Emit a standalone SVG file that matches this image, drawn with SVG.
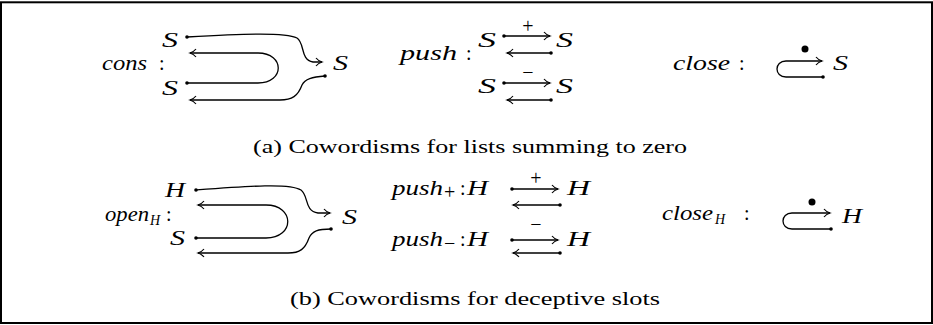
<svg xmlns="http://www.w3.org/2000/svg" width="933" height="325" viewBox="0 0 933 325" font-family="'Liberation Serif', 'Times New Roman', Times, serif">
<style>
text{font-family:'Liberation Serif','Times New Roman',Times,serif;fill:#000}
.m{font-style:italic;font-size:20px}
.s{font-style:italic;font-size:14px}
.r{font-size:20px}
.c{font-size:19px}
.w{fill:none;stroke:#000;stroke-width:1.3}
.a{marker-end:url(#ah)}
</style>
<defs>
<marker id="ah" markerUnits="userSpaceOnUse" markerWidth="12" markerHeight="12" viewBox="-8 -6 10 12" refX="0" refY="0" orient="auto" overflow="visible">
<path d="M-6,-4 C-4,-1.5 -1.5,-0.5 0,0 C-1.5,0.5 -4,1.5 -6,4" fill="none" stroke="#000" stroke-width="1.2"/>
</marker>
</defs>
<rect x="1" y="2.3" width="931" height="320.7" fill="none" stroke="#000" stroke-width="2"/>

<g id="cons">
<text class="m" x="102" y="70" textLength="45" lengthAdjust="spacingAndGlyphs">cons</text>
<text class="r" x="159" y="70">:</text>
<text class="m" x="162" y="47" textLength="16" lengthAdjust="spacingAndGlyphs">S</text>
<text class="m" x="162" y="95" textLength="16" lengthAdjust="spacingAndGlyphs">S</text>
<text class="m" x="333" y="70" textLength="15" lengthAdjust="spacingAndGlyphs">S</text>
</g>
<g id="push">
<text class="m" x="400" y="60" textLength="57" lengthAdjust="spacingAndGlyphs">push</text>
<text class="r" x="466" y="60">:</text>
<text class="m" x="478" y="47" textLength="18" lengthAdjust="spacingAndGlyphs">S</text>
<text class="m" x="556" y="47" textLength="17" lengthAdjust="spacingAndGlyphs">S</text>
<text class="m" x="478" y="93" textLength="18" lengthAdjust="spacingAndGlyphs">S</text>
<text class="m" x="556" y="93" textLength="17" lengthAdjust="spacingAndGlyphs">S</text>
<text class="r" x="528" y="33" text-anchor="middle">+</text>
<text class="r" x="528" y="79" text-anchor="middle">−</text>
</g>
<g id="close">
<text class="m" x="673" y="70" textLength="57" lengthAdjust="spacingAndGlyphs">close</text>
<text class="r" x="739" y="70">:</text>
<circle cx="805" cy="49" r="3.5"/>
<text class="m" x="833" y="70" textLength="15" lengthAdjust="spacingAndGlyphs">S</text>
</g>

<g id="openH">
<text class="m" x="105" y="221" textLength="44" lengthAdjust="spacingAndGlyphs">open</text>
<text class="s" x="150" y="225">H</text>
<text class="r" x="166" y="221">:</text>
<text class="m" x="165" y="197" textLength="20" lengthAdjust="spacingAndGlyphs">H</text>
<text class="m" x="170" y="245" textLength="15" lengthAdjust="spacingAndGlyphs">S</text>
<text class="m" x="342" y="224" textLength="15" lengthAdjust="spacingAndGlyphs">S</text>
</g>
<g id="pushplus">
<text class="m" x="392" y="195" textLength="51" lengthAdjust="spacingAndGlyphs">push</text>
<text class="r" x="444" y="199" font-size="14">+</text>
<text class="r" x="460" y="195">:</text>
<text class="m" x="467" y="195" textLength="21" lengthAdjust="spacingAndGlyphs">H</text>
<text class="m" x="567" y="195" textLength="23" lengthAdjust="spacingAndGlyphs">H</text>
<text class="r" x="536" y="185" text-anchor="middle">+</text>
</g>
<g id="pushminus">
<text class="m" x="392" y="246" textLength="51" lengthAdjust="spacingAndGlyphs">push</text>
<text class="r" x="444" y="250" font-size="14">−</text>
<text class="r" x="460" y="246">:</text>
<text class="m" x="467" y="246" textLength="21" lengthAdjust="spacingAndGlyphs">H</text>
<text class="m" x="567" y="246" textLength="23" lengthAdjust="spacingAndGlyphs">H</text>
<text class="r" x="536" y="231" text-anchor="middle">−</text>
</g>
<g id="closeH">
<text class="m" x="662" y="220" textLength="51" lengthAdjust="spacingAndGlyphs">close</text>
<text class="s" x="715" y="224">H</text>
<text class="r" x="744" y="220">:</text>
<circle cx="812" cy="202" r="3.5"/>
<text class="m" x="842" y="223" textLength="20" lengthAdjust="spacingAndGlyphs">H</text>
</g>

<g id="captions">
<text class="c" x="253" y="153" textLength="434" lengthAdjust="spacingAndGlyphs">(a) Cowordisms for lists summing to zero</text>
<text class="c" x="290" y="305" textLength="370" lengthAdjust="spacingAndGlyphs">(b) Cowordisms for deceptive slots</text>
</g>

<g id="connectors">
<path class="w a" d="M187,37 C240,34 285,32 297,38 C305,43 300,60 313,62 L322,62"/>
<path class="w a" d="M187,83 L258,83 C285,83 285,53 258,53 L190,53"/>
<path class="w a" d="M325,76 C312,77 305,79 302,85 C298,96 292,100 280,100 L190,100"/>
<circle cx="187" cy="37" r="1.8"/>
<circle cx="187" cy="83" r="1.8"/>
<circle cx="325" cy="76" r="1.8"/>

<path class="w a" d="M504,36 L550,36"/>
<path class="w a" d="M551,53 L507,53"/>
<path class="w a" d="M504,83 L550,83"/>
<path class="w a" d="M551,100 L507,100"/>
<circle cx="504" cy="36" r="1.8"/>
<circle cx="551" cy="53" r="1.8"/>
<circle cx="504" cy="83" r="1.8"/>
<circle cx="551" cy="100" r="1.8"/>

<path class="w a" d="M823,77 L786,77 C774,77 774,61 786,61 L822,61"/>
<circle cx="823" cy="77" r="1.8"/>

<path class="w a" d="M196,190 C250,186 290,183 301,190 C309,196 304,211 318,213 L330,213"/>
<path class="w a" d="M196,238 L266,238 C295,238 295,205 266,205 L198,205"/>
<path class="w a" d="M331,229 C318,229 312,231 309,238 C305,249 300,253 288,253 L198,253"/>
<circle cx="196" cy="190" r="1.8"/>
<circle cx="196" cy="238" r="1.8"/>
<circle cx="331" cy="229" r="1.8"/>

<path class="w a" d="M512,189 L558,189"/>
<path class="w a" d="M560,205 L513,205"/>
<path class="w a" d="M512,240 L558,240"/>
<path class="w a" d="M560,253 L513,253"/>
<circle cx="512" cy="189" r="1.8"/>
<circle cx="560" cy="205" r="1.8"/>
<circle cx="512" cy="240" r="1.8"/>
<circle cx="560" cy="253" r="1.8"/>

<path class="w a" d="M831,229 L792,229 C780,229 780,213 792,213 L830,213"/>
<circle cx="831" cy="229" r="1.8"/>
</g>
</svg>
